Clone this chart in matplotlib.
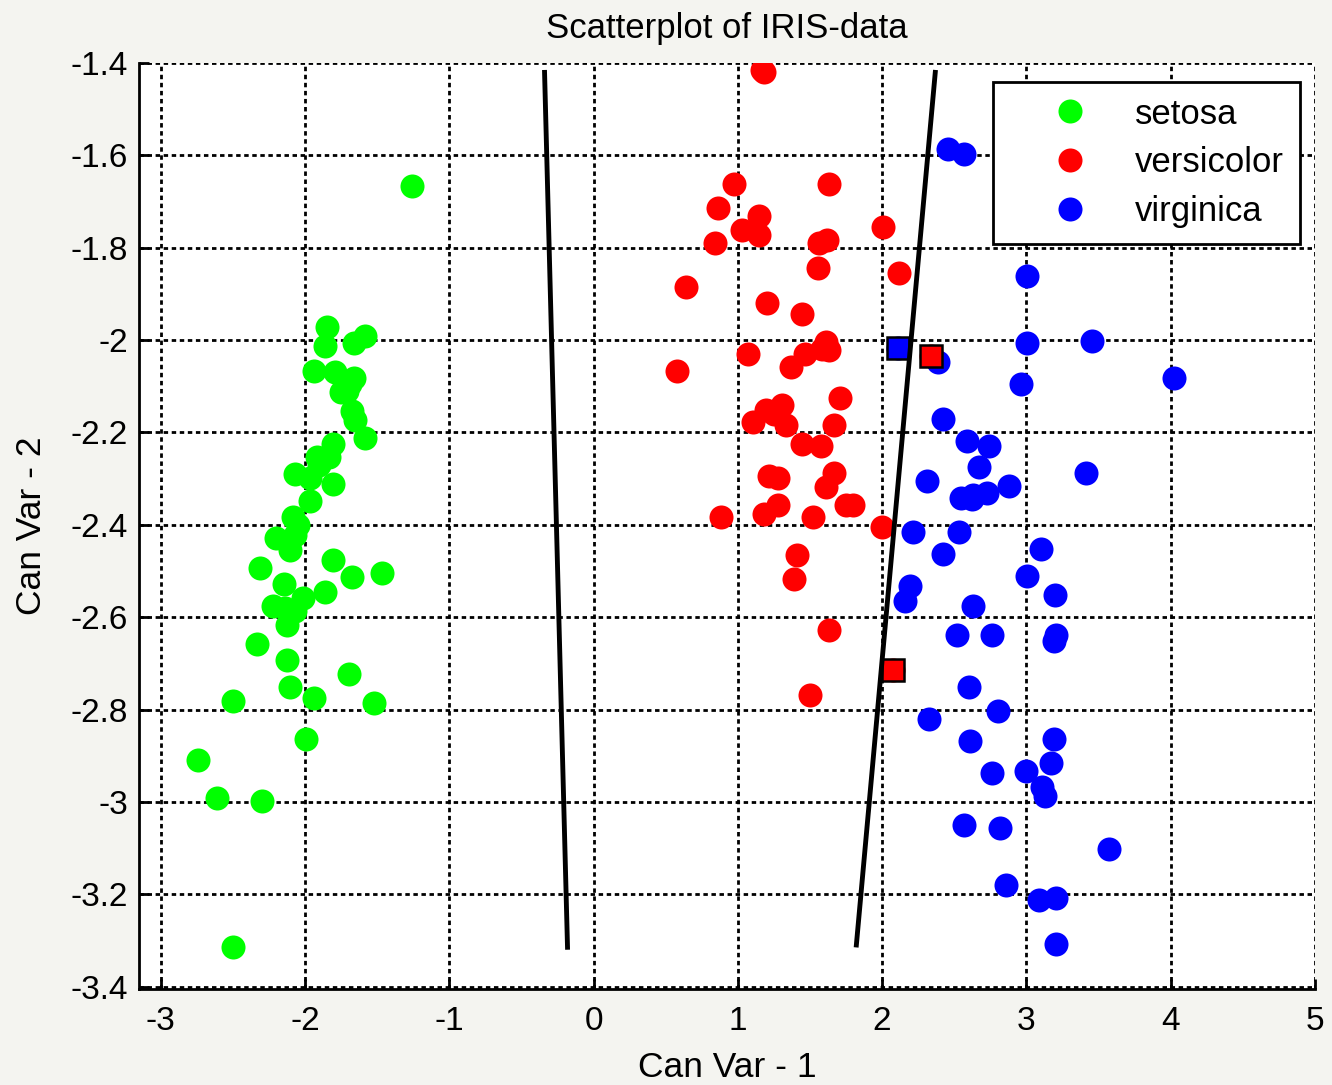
import matplotlib
matplotlib.use("Agg")
import matplotlib.pyplot as plt

plt.rcParams['font.family'] = ['Liberation Sans', 'DejaVu Sans']
plt.rcParams['axes.unicode_minus'] = False

# ---------------- data ----------------
setosa_x = [-1.261, -1.844, -1.583, -1.863, -1.657, -1.939, -1.789, -1.659, -1.712, -1.747,
            -1.671, -1.652, -1.583, -1.807, -1.833, -1.920, -2.069, -1.967, -1.805, -1.965,
            -2.085, -2.203, -2.071, -2.105, -1.807, -2.311, -1.465, -1.673, -2.145, -1.861,
            -2.015, -2.225, -2.071, -2.124, -2.332, -2.124, -1.694, -2.105, -2.501, -1.937,
            -1.523, -1.992, -2.743, -2.612, -2.295, -2.501, -2.138, -1.690, -1.900, -2.050]
setosa_y = [-1.667, -1.972, -1.990, -2.012, -2.006, -2.066, -2.070, -2.082, -2.111, -2.113,
            -2.154, -2.172, -2.213, -2.224, -2.254, -2.252, -2.289, -2.299, -2.312, -2.348,
            -2.382, -2.429, -2.423, -2.454, -2.476, -2.493, -2.505, -2.512, -2.529, -2.546,
            -2.558, -2.576, -2.587, -2.617, -2.658, -2.693, -2.722, -2.751, -2.781, -2.775,
            -2.786, -2.864, -2.910, -2.992, -2.998, -3.314, -2.581, -2.095, -2.270, -2.400]

versicolor_x = [1.166, 1.184, 0.976, 1.632, 0.863, 1.145, 1.027, 1.147, 2.007, 0.844,
                1.561, 1.617, 1.556, 2.120, 0.639, 1.203, 1.443, 1.612, 1.632, 1.069,
                1.466, 1.369, 0.580, 2.340, 1.709, 1.198, 1.309, 1.105, 1.332, 1.669,
                1.250, 1.443, 1.575, 1.218, 1.277, 1.669, 1.612, 1.277, 1.180, 1.748,
                1.801, 1.519, 0.881, 2.002, 1.408, 1.390, 1.632, 2.078, 1.501, 1.580]
versicolor_y = [-1.416, -1.420, -1.661, -1.661, -1.714, -1.731, -1.761, -1.772, -1.754, -1.790,
                -1.790, -1.784, -1.843, -1.854, -1.884, -1.919, -1.943, -2.005, -2.021, -2.030,
                -2.029, -2.059, -2.066, -2.034, -2.125, -2.151, -2.140, -2.177, -2.184, -2.183,
                -2.160, -2.224, -2.230, -2.294, -2.299, -2.288, -2.318, -2.358, -2.376, -2.358,
                -2.358, -2.383, -2.382, -2.405, -2.465, -2.517, -2.628, -2.715, -2.769, -2.020]

virginica_x = [2.458, 2.571, 3.003, 3.003, 3.456, 2.966, 4.020, 2.113, 2.384, 2.421,
               2.589, 2.744, 2.670, 3.410, 2.310, 2.548, 2.633, 2.728, 2.880, 2.217,
               2.534, 3.098, 2.423, 3.003, 2.194, 3.198, 2.160, 2.633, 2.518, 2.763,
               3.205, 3.190, 2.605, 2.800, 2.328, 2.610, 3.190, 3.170, 2.763, 2.995,
               3.108, 3.128, 2.571, 2.820, 3.570, 2.858, 3.089, 3.206, 3.206, 2.620]
virginica_y = [-1.586, -1.597, -1.861, -2.006, -2.001, -2.094, -2.083, -2.017, -2.048, -2.171,
               -2.218, -2.230, -2.275, -2.288, -2.306, -2.341, -2.335, -2.332, -2.315, -2.416,
               -2.416, -2.453, -2.464, -2.510, -2.533, -2.552, -2.564, -2.575, -2.639, -2.639,
               -2.639, -2.651, -2.751, -2.803, -2.820, -2.869, -2.863, -2.915, -2.938, -2.933,
               -2.967, -2.988, -3.051, -3.056, -3.102, -3.179, -3.213, -3.208, -3.308, -2.345]

# misclassified points (indices into the class arrays)
misclassified_versicolor = [23, 47]
misclassified_virginica = [7]

# decision boundaries
boundary1_x = [-0.34, -0.18]
boundary1_y = [-1.415, -3.32]
boundary2_x = [2.37, 1.82]
boundary2_y = [-1.415, -3.315]

class_names = ['setosa', 'versicolor', 'virginica']
x_ticks = [-3, -2, -1, 0, 1, 2, 3, 4, 5]
y_ticks = [-3.4, -3.2, -3.0, -2.8, -2.6, -2.4, -2.2, -2.0, -1.8, -1.6, -1.4]

# ---------------- plot ----------------
fig = plt.figure(figsize=(13.32, 10.85), dpi=100, facecolor='#f4f4f0')
ax = fig.add_axes([0.1044, 0.0885, 0.8828, 0.8534])
ax.set_facecolor('white')

ms = 17.3
ax.plot(setosa_x, setosa_y, 'o', color='#00ff00', ms=ms, mew=0, label=class_names[0], zorder=3)
ax.plot(versicolor_x, versicolor_y, 'o', color='#ff0000', ms=ms, mew=0, label=class_names[1], zorder=3)
ax.plot(virginica_x, virginica_y, 'o', color='#0000ff', ms=ms, mew=0, label=class_names[2], zorder=3)

ax.plot([versicolor_x[i] for i in misclassified_versicolor],
        [versicolor_y[i] for i in misclassified_versicolor],
        's', mfc='#ff0000', mec='black', ms=15.5, mew=1.8, zorder=4)
ax.plot([virginica_x[i] for i in misclassified_virginica],
        [virginica_y[i] for i in misclassified_virginica],
        's', mfc='#0000ff', mec='black', ms=15.5, mew=1.8, zorder=4)

ax.plot(boundary1_x, boundary1_y, '-', color='black', lw=3.5, zorder=5, solid_capstyle='butt')
ax.plot(boundary2_x, boundary2_y, '-', color='black', lw=3.5, zorder=5, solid_capstyle='butt')

ax.set_xlim(-3.15, 5)
ax.set_ylim(-3.405, -1.4)
ax.set_xticks(x_ticks)
ax.set_yticks(y_ticks)
ax.set_xticklabels(['%g' % v for v in x_ticks])
ax.set_yticklabels(['%g' % v for v in y_ticks])

ax.grid(True, color='black', linestyle=(0, (1.6, 1.3)), linewidth=2.0, zorder=1)
ax.set_axisbelow(True)

for s in ['top', 'right']:
    ax.spines[s].set_visible(False)
for s in ['left', 'bottom']:
    ax.spines[s].set_linewidth(2.0)
    ax.spines[s].set_color('black')

ax.tick_params(axis='both', direction='in', length=7, width=2.0, labelsize=24, colors='black')
ax.tick_params(axis='y', pad=8)
ax.tick_params(axis='x', pad=12)

ax.set_title('Scatterplot of IRIS-data', fontsize=25, pad=18)
ax.set_xlabel('Can Var - 1', fontsize=25.5, labelpad=10)
ax.set_ylabel('Can Var - 2', fontsize=25.5, labelpad=16)

leg = ax.legend(loc='upper right', bbox_to_anchor=(0.987, 0.9795), fontsize=25,
                frameon=True, fancybox=False, framealpha=1, edgecolor='black',
                borderpad=0.45, handlelength=3.55, handletextpad=0.1, labelspacing=0.45,
                borderaxespad=0)
leg.get_frame().set_linewidth(2.0)

fig.savefig('out.png', dpi=100, facecolor=fig.get_facecolor())
